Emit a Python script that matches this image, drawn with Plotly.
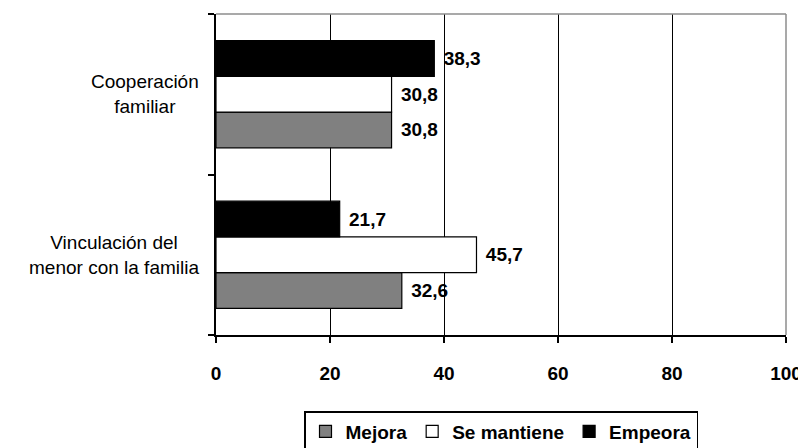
import plotly.graph_objects as go

categories = ["Vinculación del<br>menor con la familia", "Cooperación<br>familiar"]
series_names = ["Mejora", "Se mantiene", "Empeora"]
mejora = [32.6, 30.8]
se_mantiene = [45.7, 30.8]
empeora = [21.7, 38.3]
x_ticks = [0, 20, 40, 60, 80, 100]

colors = ["#808080", "#FFFFFF", "#000000"]
values = [mejora, se_mantiene, empeora]

FONT = "Liberation Sans, Arial, sans-serif"

fig = go.Figure()
for name, vals, col in zip(series_names, values, colors):
    fig.add_trace(go.Bar(
        y=list(range(len(categories))),
        x=vals,
        name=name,
        orientation="h",
        marker=dict(color=col, line=dict(color="#000000", width=1.2)),
        texttemplate="\u2004%{x:.1f}",
        textposition="outside",
        constraintext="none",
        cliponaxis=False,
        textfont=dict(family=FONT, size=19, color="#000000", weight="bold"),
    ))

annotations = []
for i, cat in enumerate(categories):
    annotations.append(dict(
        text=cat, x=0, xref="paper", y=i, yref="y",
        xanchor="right", yanchor="middle", xshift=-15, align="center",
        showarrow=False,
        font=dict(family=FONT, size=19, color="#000000"),
    ))

# page body has an 8px default margin, so the figure is sized to fill the
# remaining 798x440 of the 806x448 window
fig.update_layout(
    width=798, height=440,
    margin=dict(l=208, r=20, t=6, b=113, autoexpand=False),
    paper_bgcolor="white", plot_bgcolor="white",
    barmode="group", bargap=0.333, bargroupgap=0,
    separators=",.",
    showlegend=True,
    legend=dict(
        orientation="h", x=0.5, xanchor="center", y=-0.237, yanchor="top",
        bordercolor="#000000", borderwidth=1.5, bgcolor="white",
        font=dict(family=FONT, size=19, color="#000000", weight="bold"),
        itemwidth=30, tracegroupgap=0,
    ),
    annotations=annotations,
    shapes=[
        dict(type="line", xref="paper", yref="paper", x0=0, x1=1, y0=1, y1=1,
             line=dict(color="#8C8C8C", width=1.5), layer="above"),
        dict(type="line", xref="paper", yref="paper", x0=1, x1=1, y0=0, y1=1,
             line=dict(color="#8C8C8C", width=1.5), layer="above"),
    ],
)

fig.update_xaxes(
    range=[0, 100], tickvals=x_ticks, ticktext=[str(t) for t in x_ticks],
    showgrid=True, gridcolor="#000000", gridwidth=1.2,
    zeroline=False, showline=True, linecolor="#000000", linewidth=1.5,
    ticks="outside", ticklen=6, tickcolor="#000000", tickwidth=1.5,
    ticklabelstandoff=14, automargin=False,
    tickfont=dict(family=FONT, size=19, color="#000000", weight="bold"),
    fixedrange=True,
)
fig.update_yaxes(
    range=[-0.5, len(categories) - 0.5],
    tickvals=[-0.5, 0.5, 1.5], showticklabels=False,
    showgrid=False, zeroline=False, automargin=False,
    showline=True, linecolor="#000000", linewidth=1.5,
    ticks="outside", ticklen=6, tickcolor="#000000", tickwidth=1.5,
    fixedrange=True,
)

fig.write_html("out.html")
